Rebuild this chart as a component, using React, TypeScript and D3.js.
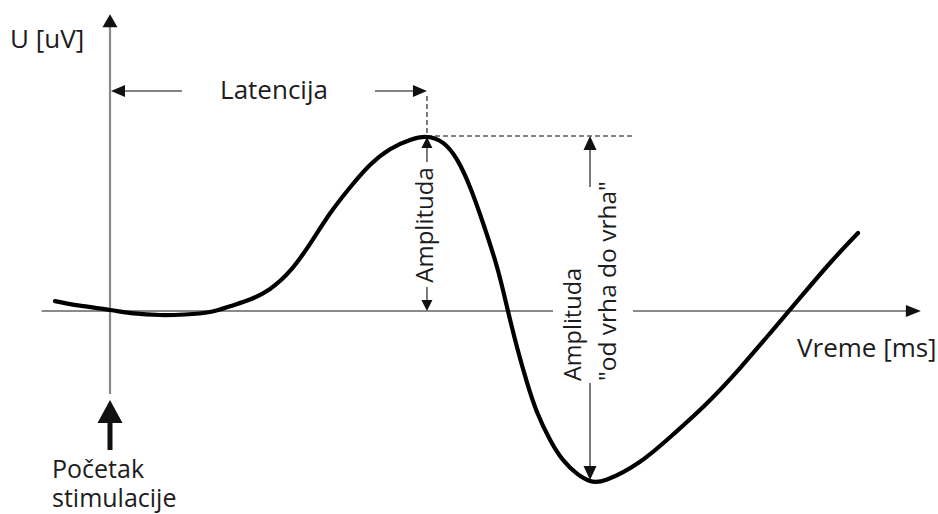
import React from "react";
import * as d3 from "d3";

// Curve samples: time [ms, arbitrary units] and voltage [arbitrary units]
const timeMs = [
  -6.92, -4.03, 0, 3.02, 6.29, 9.43, 12.58, 15.09, 17.61, 20.13, 22.64, 25.16,
  27.67, 30.19, 32.7, 35.22, 37.74, 39.87, 41.89, 43.65, 45.28, 46.92, 48.68,
  49.94, 51.19, 52.45, 53.71, 55.35, 56.98, 58.74, 60.38, 62.52, 66.67, 70.82,
  75.09, 79.25, 83.02, 86.79, 90.57, 94.09,
];
const voltage = [
  0.57, 0.32, 0.06, -0.14, -0.23, -0.2, -0.06, 0.27, 0.66, 1.27, 2.3, 3.86,
  5.6, 7.1, 8.39, 9.3, 9.83, 10, 9.66, 8.7, 7.13, 5.06, 2.53, 0.23, -2.07,
  -4.1, -5.8, -7.4, -8.56, -9.35, -9.77, -9.68, -8.66, -7.1, -5.3, -3.28,
  -1.28, 0.75, 2.76, 4.48,
];

const labels = {
  yAxis: "U [uV]",
  xAxis: "Vreme [ms]",
  latency: "Latencija",
  amplitude: "Amplituda",
  p2pLine1: "Amplituda",
  p2pLine2: "\"od vrha do vrha\"",
  stim1: "Početak",
  stim2: "stimulacije",
};

const W = 938;
const H = 514;
const FONT = "'Open Sans', 'DejaVu Sans', sans-serif";
const TEXT = "#1c1c1c";
const AXIS = "#8a8a8a";
const ANN = "#5a5a5a";

function Head({ x, y, dir, w = 12, l = 12, fill = "#111" }: any) {
  let pts = "";
  if (dir === "up") pts = `${x},${y} ${x - w / 2},${y + l} ${x + w / 2},${y + l}`;
  if (dir === "down") pts = `${x},${y} ${x - w / 2},${y - l} ${x + w / 2},${y - l}`;
  if (dir === "left") pts = `${x},${y} ${x + l},${y - w / 2} ${x + l},${y + w / 2}`;
  if (dir === "right") pts = `${x},${y} ${x - l},${y - w / 2} ${x - l},${y + w / 2}`;
  return <polygon points={pts} fill={fill} />;
}

export default function App() {
  const x = d3.scaleLinear().domain([0, 100]).range([110, 905]);
  const y = d3.scaleLinear().domain([0, 10]).range([311, 137]);

  const pts: [number, number][] = timeMs.map((t, i) => [t, voltage[i]]);
  const line = d3
    .line<[number, number]>()
    .x((d) => x(d[0]))
    .y((d) => y(d[1]))
    .curve(d3.curveNatural);

  const iPeak = d3.maxIndex(voltage);
  const iTrough = d3.minIndex(voltage);
  const px = x(timeMs[iPeak]);
  const py = y(voltage[iPeak]);
  const tx = x(timeMs[iTrough]);
  const ty = y(voltage[iTrough]);
  const x0 = x(0);
  const y0 = y(0);

  const xAxisStart = x(-8.6);
  const xAxisEnd = x(102);
  const yAxisTop = y(17.05);
  const yAxisBottom = 394;
  const latY = 91;
  const gapL = 553;
  const gapR = 633;

  return (
    <svg
      width={W}
      height={H}
      style={{ position: "absolute", left: 0, top: 0, background: "#fff" }}
      fontFamily={FONT}
    >
      <rect width={W} height={H} fill="#fff" />
      {/* x axis with a gap for the label */}
      <line x1={xAxisStart} x2={gapL} y1={y0} y2={y0} stroke={AXIS} strokeWidth={2.2} />
      <line x1={gapR} x2={xAxisEnd - 14} y1={y0} y2={y0} stroke={AXIS} strokeWidth={2.2} />
      <Head x={xAxisEnd} y={y0} dir="right" w={12} l={15} />
      {/* y axis */}
      <line x1={x0} x2={x0} y1={yAxisTop + 12} y2={yAxisBottom} stroke={AXIS} strokeWidth={2.2} />
      <Head x={x0} y={yAxisTop} dir="up" w={15} l={13} />

      {/* stimulus arrow */}
      <line x1={x0} x2={x0} y1={420} y2={450} stroke="#111" strokeWidth={5} />
      <Head x={x0} y={400} dir="up" w={25} l={23} />

      {/* latency arrows */}
      <line x1={x0 + 12} x2={182} y1={latY} y2={latY} stroke={ANN} strokeWidth={1.6} />
      <Head x={x0 + 1} y={latY} dir="left" w={12} l={14} />
      <line x1={375} x2={px - 12} y1={latY} y2={latY} stroke={ANN} strokeWidth={1.6} />
      <Head x={px} y={latY} dir="right" w={12} l={14} />
      <line x1={px} x2={px} y1={latY + 5} y2={py} stroke={ANN} strokeWidth={1.6} strokeDasharray="5,3" />
      <line x1={px} x2={633} y1={py - 1} y2={py - 1} stroke={ANN} strokeWidth={1.6} strokeDasharray="5,3" />

      {/* amplitude arrow */}
      <line x1={px} x2={px} y1={py + 8} y2={162} stroke={ANN} strokeWidth={1.6} />
      <Head x={px} y={py} dir="up" w={11} l={11} />
      <line x1={px} x2={px} y1={287} y2={y0 - 9} stroke={ANN} strokeWidth={1.6} />
      <Head x={px} y={y0} dir="down" w={11} l={11} />

      {/* peak-to-peak arrow */}
      <line x1={tx} x2={tx} y1={py + 8} y2={187} stroke={ANN} strokeWidth={1.6} />
      <Head x={tx} y={py - 1} dir="up" w={13} l={14} />
      <line x1={tx} x2={tx} y1={383} y2={ty - 12} stroke={ANN} strokeWidth={1.6} />
      <Head x={tx} y={ty - 1} dir="down" w={13} l={14} />

      {/* the curve */}
      <path d={line(pts) || ""} fill="none" stroke="#000" strokeWidth={4.2} strokeLinecap="round" />

      {/* texts */}
      <text x={10} y={48} fontSize={26} fill={TEXT}>{labels.yAxis}</text>
      <text x={797} y={357} fontSize={26} fill={TEXT}>{labels.xAxis}</text>
      <text x={274} y={99} fontSize={26} fill={TEXT} textAnchor="middle">{labels.latency}</text>
      <text transform={`translate(433,225) rotate(-90)`} fontSize={24} fill={TEXT} textAnchor="middle">
        {labels.amplitude}
      </text>
      <text transform={`translate(581,381) rotate(-90)`} fontSize={23.5} fill={TEXT}>
        {labels.p2pLine1}
      </text>
      <text transform={`translate(616,381) rotate(-90)`} fontSize={24.5} fill={TEXT}>
        {labels.p2pLine2}
      </text>
      <text x={52} y={478} fontSize={25} fill={TEXT}>{labels.stim1}</text>
      <text x={52} y={507} fontSize={25} fill={TEXT}>{labels.stim2}</text>
    </svg>
  );
}
